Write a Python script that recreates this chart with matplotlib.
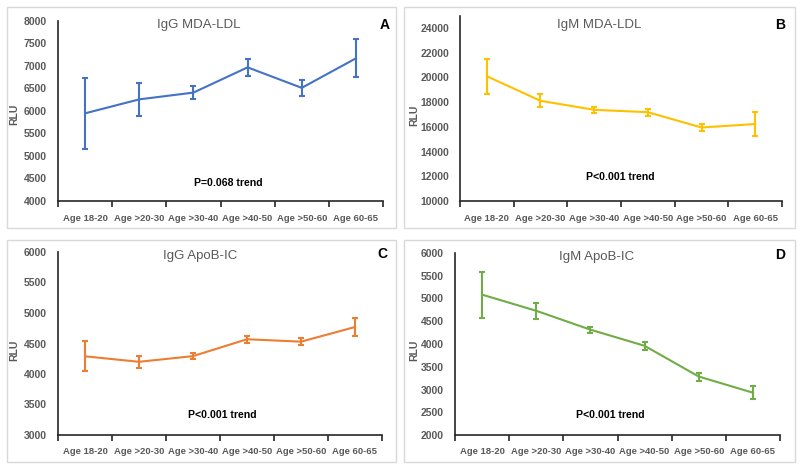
import matplotlib.pyplot as plt
from matplotlib.patches import Rectangle
import numpy as np

plt.rcParams['font.family'] = ['Liberation Sans', 'DejaVu Sans']

age_groups = ['Age 18-20', 'Age >20-30', 'Age >30-40', 'Age >40-50', 'Age >50-60', 'Age 60-65']

igg_mda = [5945, 6255, 6405, 6965, 6510, 7165]
igg_mda_err = [790, 370, 145, 190, 175, 420]

igm_mda = [20100, 18110, 17380, 17190, 15950, 16230]
igm_mda_err = [1420, 540, 240, 280, 300, 960]

igg_apob = [4290, 4200, 4293, 4570, 4530, 4770]
igg_apob_err = [245, 95, 50, 58, 60, 150]

igm_apob = [5085, 4730, 4315, 3960, 3285, 2930]
igm_apob_err = [505, 172, 65, 92, 88, 140]

W, H = 800, 469
fig = plt.figure(figsize=(8, 4.69), dpi=100)


def px(x, y):
    return x / W, 1 - y / H


def box(x0, y0, x1, y1):
    fig.patches.append(Rectangle(px(x0, y1), (x1 - x0) / W, (y1 - y0) / H,
                                 transform=fig.transFigure, fill=False,
                                 edgecolor='#d9d9d9', linewidth=1))


panels = [
    # values, errors, color, title, letter, ptext, ylim, step, box, axes, title xy, letter xy, p xy, RLU xy
    (igg_mda, igg_mda_err, '#4472c4', 'IgG MDA-LDL', 'A', 'P=0.068 trend', (4000, 8000), 500,
     (7, 7, 396, 228), (58, 20.7, 383, 201), (199, 25), (385, 25), (228, 183), (14, 114)),
    (igm_mda, igm_mda_err, '#ffc000', 'IgM MDA-LDL', 'B', 'P<0.001 trend', (10000, 25000), 2000,
     (404, 7, 795, 228), (460, 15.7, 782, 201), (599, 25), (780, 25), (620, 177), (414, 115)),
    (igg_apob, igg_apob_err, '#ed7d31', 'IgG ApoB-IC', 'C', 'P<0.001 trend', (3000, 6000), 500,
     (7, 240, 396, 462), (58, 252, 382, 435), (200, 256), (382, 254), (222, 415), (14, 350)),
    (igm_apob, igm_apob_err, '#70ad47', 'IgM ApoB-IC', 'D', 'P<0.001 trend', (2000, 6000), 500,
     (404, 240, 795, 462), (455, 253, 780, 435), (597, 257), (780, 255), (610, 415), (414, 350)),
]

x = np.arange(len(age_groups))

for vals, errs, col, title, letter, ptxt, ylim, step, bx, axp, txy, lxy, pxy, rxy in panels:
    box(*bx)
    l, t, r, b = axp
    ax = fig.add_axes([l / W, 1 - b / H, (r - l) / W, (b - t) / H])
    ax.errorbar(x, vals, yerr=errs, color=col, linewidth=1.5, elinewidth=1.5,
                capsize=2.5, capthick=1.5)
    ax.set_xlim(-0.5, len(age_groups) - 0.5)
    ax.set_ylim(*ylim)
    ax.set_yticks(np.arange(ylim[0], ylim[1] + 1, step))
    ax.set_xticks(x)
    ax.set_xticklabels(age_groups)
    ax.set_xticks(np.arange(-0.5, len(age_groups)), minor=True)
    ax.tick_params(axis='x', which='major', length=0, pad=9, labelsize=6.8, labelcolor='#595959')
    ax.tick_params(axis='x', which='minor', length=4, width=1.2, color='#262626', direction='out')
    ax.tick_params(axis='y', length=0, pad=8, labelsize=7.5, labelcolor='#595959')
    for lab in ax.get_xticklabels() + ax.get_yticklabels():
        lab.set_fontweight('bold')
    for s in ['top', 'right']:
        ax.spines[s].set_visible(False)
    for s in ['left', 'bottom']:
        ax.spines[s].set_color('#262626')
        ax.spines[s].set_linewidth(1.2)
    ax.patch.set_alpha(0)

    fig.text(*px(*rxy), 'RLU', rotation=90, ha='center', va='center', fontsize=7.5,
             fontweight='bold', color='#595959')
    fig.text(*px(*txy), title, ha='center', va='center', fontsize=9.5, color='#595959')
    fig.text(*px(*lxy), letter, ha='center', va='center', fontsize=10, fontweight='bold', color='black')
    fig.text(*px(*pxy), ptxt, ha='center', va='center', fontsize=7.6, fontweight='bold', color='black')

fig.savefig('out.png', dpi=100)
